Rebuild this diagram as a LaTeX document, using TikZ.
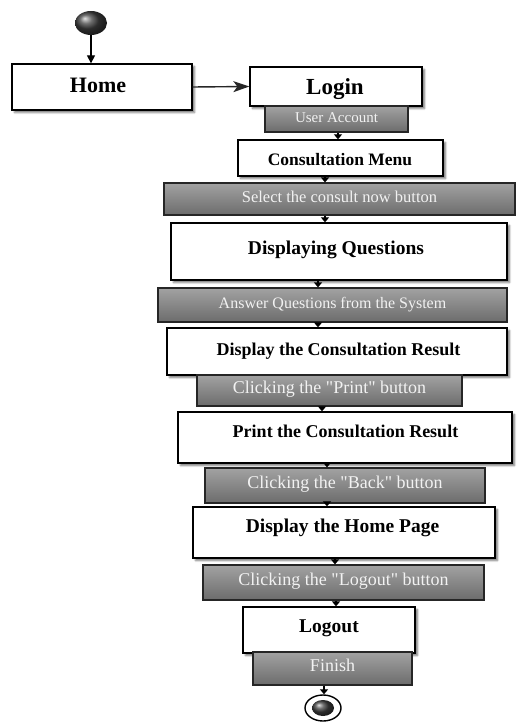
\documentclass[tikz,border=0pt]{standalone}
\usepackage{fontspec}
\setmainfont{Liberation Serif}[Ligatures=TeXOff]
\usetikzlibrary{arrows.meta,shapes.geometric,shadows.blur}

\definecolor{boxtop}{HTML}{A2A2A2}
\definecolor{boxbot}{HTML}{6C6C6C}
\definecolor{boxtext}{HTML}{F2F2F2}

\tikzset{
  wbox/.style={rectangle, draw=black, line width=1.3pt, fill=white, inner sep=0pt,
    blur shadow={shadow xshift=2.5pt, shadow yshift=-2.5pt, shadow blur radius=1.8pt, shadow opacity=55}},
  gbox/.style={rectangle, draw=black!85, line width=1.2pt, top color=boxtop, bottom color=boxbot,
    inner sep=0pt, text=boxtext, text height=0.66em, text depth=0pt},
  wtext/.style={anchor=base, inner sep=0pt, font=\bfseries},
  conn/.style={line width=1.4pt, draw=black, -{Triangle[length=5pt,width=8pt]}},
}

\newcommand{\fsz}[1]{\fontsize{#1}{#1}\selectfont}

\begin{document}
\begin{tikzpicture}[x=1pt,y=-1pt]
\useasboundingbox (0,0) rectangle (517,722);

% start state
\node[ellipse, minimum width=32pt, minimum height=24pt, inner sep=0pt, ball color=black!75] (start) at (91,23) {};

% activity boxes
\node[wbox, minimum width=180pt, minimum height=46pt] (home) at (102,87) {};
\node[wtext, font=\bfseries\fsz{22}] (home-t) at (98,93) {Home};

\node[wbox, minimum width=172pt, minimum height=39pt] (login) at (336,86.5) {};
\node[wtext, font=\bfseries\fsz{23}] (login-t) at (335,95) {Login};

\node[gbox, minimum width=143pt, minimum height=26pt, font=\fsz{15}] (ua) at (336.5,119) {User Account};

\node[wbox, minimum width=205pt, minimum height=36pt] (cm) at (340.5,158) {};
\node[wtext, font=\bfseries\fsz{17.5}] (cm-t) at (340,165) {Consultation Menu};

\node[gbox, minimum width=351pt, minimum height=32pt, font=\fsz{16.5}] (sel) at (339.5,199) {Select the consult now button};

\node[wbox, minimum width=336pt, minimum height=57pt] (dq) at (339,251.5) {};
\node[wtext, font=\bfseries\fsz{19.5}] (dq-t) at (336,254) {Displaying Questions};

\node[gbox, minimum width=349pt, minimum height=34pt, font=\fsz{16}] (ans) at (332.5,305) {Answer Questions from the System};

\node[wbox, minimum width=340pt, minimum height=47pt] (dcr) at (337,351.5) {};
\node[wtext, font=\bfseries\fsz{18}] (dcr-t) at (338.5,355) {Display the Consultation Result};

\node[gbox, minimum width=265pt, minimum height=31pt, font=\fsz{18}] (prt) at (329.5,390.5) {Clicking the "Print" button};

\node[wbox, minimum width=334pt, minimum height=51pt] (pcr) at (345,437.5) {};
\node[wtext, font=\bfseries\fsz{18}] (pcr-t) at (345.5,437) {Print the Consultation Result};

\node[gbox, minimum width=280pt, minimum height=35pt, font=\fsz{18}] (back) at (345,485.5) {Clicking the "Back" button};

\node[wbox, minimum width=302pt, minimum height=51pt] (dhp) at (344,532.5) {};
\node[wtext, font=\bfseries\fsz{19.5}] (dhp-t) at (342.5,532) {Display the Home Page};

\node[gbox, minimum width=281pt, minimum height=35pt, font=\fsz{18}] (lob) at (343.5,582.5) {Clicking the "Logout" button};

\node[wbox, minimum width=172pt, minimum height=46pt] (lo) at (329,630) {};
\node[wtext, font=\bfseries\fsz{19.5}] (lo-t) at (329,632) {Logout};

\node[gbox, minimum width=159pt, minimum height=33pt, font=\fsz{18}] (fin) at (332.5,668.5) {Finish};

% final state
\node[ellipse, draw=black, line width=1.4pt, fill=white, minimum width=36pt, minimum height=26pt, inner sep=0pt] (end) at (323,708) {};
\node[ellipse, minimum width=22pt, minimum height=16pt, inner sep=0pt, ball color=black!75] (end-in) at (end.center) {};

% connectors
\draw[line width=1.3pt, -{Triangle[length=8pt,width=8pt]}] (start.south) -- (start.south |- home.north);
\draw[line width=1.4pt, draw=black!85, -{Stealth[length=16pt,width=11pt,inset=4pt]}] (home.east) -- (login.west);
\draw[conn] (338,0 |- ua.south) -- (338,0 |- cm.north);
\draw[conn] (325,0 |- cm.south) -- (325,0 |- sel.north);
\draw[conn] (325,0 |- sel.south) -- (325,0 |- dq.north);
\draw[conn] (318,0 |- dq.south) -- (318,0 |- ans.north);
\draw[conn] (318,0 |- ans.south) -- (318,0 |- dcr.north);
\draw[conn] (322,0 |- prt.south) -- (322,0 |- pcr.north);
\draw[conn] (327,0 |- pcr.south) -- (327,0 |- back.north);
\draw[conn] (327,0 |- back.south) -- (327,0 |- dhp.north);
\draw[conn] (335,0 |- dhp.south) -- (335,0 |- lob.north);
\draw[conn] (336,0 |- lob.south) -- (336,0 |- lo.north);
\draw[conn] (324,0 |- fin.south) -- (324,0 |- end.north);
\end{tikzpicture}
\end{document}
